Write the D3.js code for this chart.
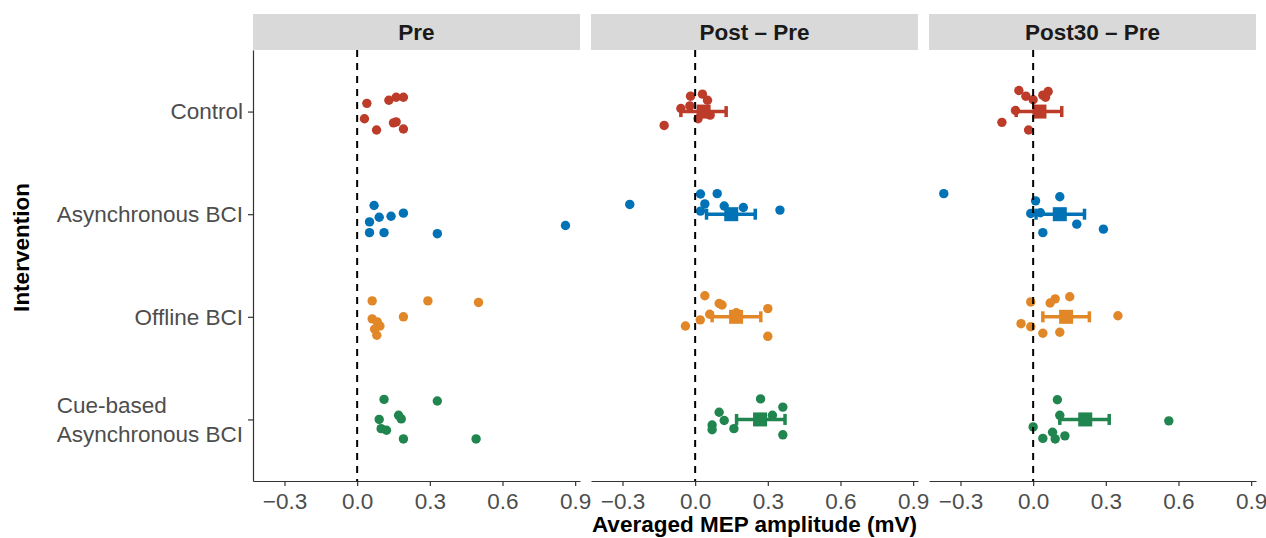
<!DOCTYPE html>
<html>
<head>
<meta charset="utf-8">
<script src="https://cdn.jsdelivr.net/npm/d3@7"></script>
<style>
  body { margin: 0; background: #fff; }
  svg { display: block; }
  text { font-family: "Liberation Sans", Arial, Helvetica, sans-serif; }
</style>
</head>
<body>
<div id="chart"></div>
<script>
// categories / facets
var groups = ["Control", "Asynchronous BCI", "Offline BCI", "Cue-based\nAsynchronous BCI"];
var facets = ["Pre", "Post \u2013 Pre", "Post30 \u2013 Pre"];
var colors = ["#BC3C29", "#0072B5", "#E18727", "#20854E"];
var xTicks = [-0.3, 0, 0.3, 0.6, 0.9];

// Pre (one array per group, jitter is the vertical offset in category steps)
var preValues = [
  [0.040, 0.131, 0.161, 0.191, 0.030, 0.080, 0.150, 0.161, 0.191],
  [0.070, 0.051, 0.091, 0.140, 0.191, 0.051, 0.111, 0.331, 0.860],
  [0.062, 0.292, 0.501, 0.191, 0.062, 0.083, 0.094, 0.072, 0.081],
  [0.111, 0.331, 0.091, 0.171, 0.182, 0.099, 0.121, 0.191, 0.491]
];
var preJitter = [
  [-0.08, -0.11, -0.14, -0.14, 0.07, 0.18, 0.11, 0.10, 0.17],
  [-0.085, 0.075, 0.03, 0.02, -0.01, 0.18, 0.18, 0.19, 0.11],
  [-0.155, -0.155, -0.14, 0.0, 0.02, 0.05, 0.09, 0.12, 0.18],
  [-0.195, -0.18, 0.0, -0.04, -0.005, 0.09, 0.105, 0.19, 0.19]
];

// Post - Pre
var postValues = [
  [-0.019, 0.030, 0.051, -0.059, -0.022, 0.012, 0.062, -0.128, 0.040],
  [-0.270, 0.022, 0.091, 0.040, 0.120, 0.199, 0.022, 0.350, 0.150],
  [0.040, 0.099, 0.111, 0.300, 0.060, 0.021, -0.040, 0.300, 0.170],
  [0.270, 0.362, 0.099, 0.319, 0.120, 0.070, 0.070, 0.160, 0.362]
];
var postJitter = [
  [-0.15, -0.17, -0.11, -0.03, -0.055, 0.07, 0.035, 0.135, -0.01],
  [-0.095, -0.197, -0.2, -0.10, -0.08, -0.065, -0.03, -0.04, 0.0],
  [-0.205, -0.13, -0.115, -0.08, -0.025, 0.03, 0.09, 0.19, -0.04],
  [-0.2, -0.12, -0.07, -0.04, 0.01, 0.055, 0.10, 0.09, 0.15]
];
var postMean = [0.035, 0.149, 0.169, 0.268];
var postLow = [-0.059, 0.047, 0.070, 0.171];
var postHigh = [0.128, 0.248, 0.271, 0.371];

// Post30 - Pre
var post30Values = [
  [-0.059, -0.030, 0.000, 0.040, 0.062, 0.051, -0.073, -0.129, -0.019],
  [-0.369, 0.010, 0.110, -0.010, 0.030, 0.180, 0.290, 0.040],
  [-0.010, 0.070, 0.091, 0.151, 0.350, -0.050, -0.010, 0.040, 0.110],
  [0.100, 0.110, 0.560, 0.000, 0.080, 0.131, 0.040, 0.091]
];
var post30Jitter = [
  [-0.205, -0.15, -0.115, -0.16, -0.195, -0.14, -0.01, 0.105, 0.18],
  [-0.2, -0.13, -0.17, -0.007, -0.014, 0.097, 0.146, 0.18],
  [-0.145, -0.135, -0.175, -0.195, -0.01, 0.067, 0.097, 0.16, 0.15],
  [-0.192, -0.04, 0.014, 0.073, 0.125, 0.16, 0.185, 0.19]
];
var post30Mean = [0.026, 0.110, 0.136, 0.215];
var post30Low = [-0.070, 0.012, 0.040, 0.110];
var post30High = [0.118, 0.212, 0.232, 0.314];

var facetData = [
  { values: preValues, jitter: preJitter },
  { values: postValues, jitter: postJitter, mean: postMean, low: postLow, high: postHigh },
  { values: post30Values, jitter: post30Jitter, mean: post30Mean, low: post30Low, high: post30High }
];

// layout
var W = 1266, H = 538;
var margin = { top: 50, left: 253 };
var pw = 327, ph = 431, gap = 11, stripH = 36;
var axisCol = "#333333", labelCol = "#4d4d4d";
var fs = "22.5px";

var svg = d3.select("#chart").append("svg")
  .attr("width", W)
  .attr("height", H);

var x = d3.scaleLinear().domain([-0.43, 0.92]).range([0, pw]);
var y = d3.scalePoint().domain(groups).range([0, ph]).padding(0.6);
var step = y.step();

facets.forEach(function (f, i) {
  var d = facetData[i];
  var g = svg.append("g")
    .attr("transform", "translate(" + (margin.left + i * (pw + gap)) + "," + margin.top + ")");

  // strip
  g.append("rect")
    .attr("x", 0).attr("y", -stripH)
    .attr("width", pw).attr("height", stripH)
    .attr("fill", "#d9d9d9");
  g.append("text")
    .attr("x", pw / 2).attr("y", -stripH / 2)
    .attr("dy", "0.36em")
    .attr("text-anchor", "middle")
    .attr("font-size", fs)
    .attr("font-weight", "bold")
    .attr("fill", "#1a1a1a")
    .text(f);

  // x axis
  var xa = g.append("g")
    .attr("transform", "translate(0," + ph + ")")
    .call(d3.axisBottom(x).tickValues(xTicks).tickFormat(d3.format(".1f"))
      .tickSize(5).tickSizeOuter(0).tickPadding(7));
  xa.select(".domain").attr("stroke", axisCol).attr("stroke-width", 1.2);
  xa.selectAll(".tick line").attr("stroke", axisCol).attr("stroke-width", 1.2);
  xa.selectAll(".tick text")
    .attr("font-size", fs)
    .attr("font-family", "'Liberation Sans', Arial, sans-serif")
    .attr("fill", labelCol);

  // points
  d.values.forEach(function (vals, gi) {
    g.append("g").selectAll("circle")
      .data(vals)
      .enter().append("circle")
      .attr("cx", function (v) { return x(v); })
      .attr("cy", function (v, k) { return y(groups[gi]) + d.jitter[gi][k] * step; })
      .attr("r", 4.7)
      .attr("fill", colors[gi]);
  });

  // mean + error bar
  if (d.mean) {
    groups.forEach(function (grp, gi) {
      var cy = y(grp);
      var eb = g.append("g").attr("stroke", colors[gi]).attr("stroke-width", 3.5);
      eb.append("line")
        .attr("x1", x(d.low[gi])).attr("x2", x(d.high[gi]))
        .attr("y1", cy).attr("y2", cy);
      [d.low[gi], d.high[gi]].forEach(function (v) {
        eb.append("line")
          .attr("x1", x(v)).attr("x2", x(v))
          .attr("y1", cy - 5.5).attr("y2", cy + 5.5);
      });
      g.append("rect")
        .attr("x", x(d.mean[gi]) - 7).attr("y", cy - 7)
        .attr("width", 14).attr("height", 14)
        .attr("fill", colors[gi]);
    });
  }

  // zero line
  g.append("line")
    .attr("x1", x(0)).attr("x2", x(0))
    .attr("y1", 0).attr("y2", ph)
    .attr("stroke", "#000")
    .attr("stroke-width", 2)
    .attr("stroke-dasharray", "7,6");

  // y axis only on the first panel
  if (i === 0) {
    var ya = g.append("g")
      .call(d3.axisLeft(y).tickSize(5).tickSizeOuter(0).tickPadding(5));
    ya.select(".domain").attr("stroke", axisCol).attr("stroke-width", 1.2);
    ya.selectAll(".tick line").attr("stroke", axisCol).attr("stroke-width", 1.2);
    ya.selectAll(".tick text").each(function (t) {
      var el = d3.select(this);
      var lines = t.split("\n");
      el.text(null)
        .attr("font-size", fs)
        .attr("font-family", "'Liberation Sans', Arial, sans-serif")
        .attr("fill", labelCol);
      if (lines.length === 1) {
        el.text(t);
        return;
      }
      var lh = 29;
      lines.forEach(function (ln, k) {
        el.append("tspan")
          .attr("x", -10)
          .attr("y", (k - (lines.length - 1) / 2) * lh)
          .attr("dy", "0.32em")
          .text(ln);
      });
      // left-align the lines inside the block
      var maxW = 0;
      el.selectAll("tspan").each(function () {
        maxW = Math.max(maxW, this.getComputedTextLength());
      });
      el.attr("text-anchor", "start");
      el.selectAll("tspan").attr("x", -10 - maxW);
    });
  }
});

// axis titles
svg.append("text")
  .attr("x", margin.left + (3 * pw + 2 * gap) / 2)
  .attr("y", 532)
  .attr("text-anchor", "middle")
  .attr("font-size", fs)
  .attr("font-weight", "bold")
  .attr("fill", "#000")
  .text("Averaged MEP amplitude (mV)");

svg.append("text")
  .attr("transform", "translate(29," + ((margin.top - stripH + margin.top + ph) / 2) + ") rotate(-90)")
  .attr("text-anchor", "middle")
  .attr("font-size", fs)
  .attr("font-weight", "bold")
  .attr("fill", "#000")
  .text("Intervention");
</script>
</body>
</html>
